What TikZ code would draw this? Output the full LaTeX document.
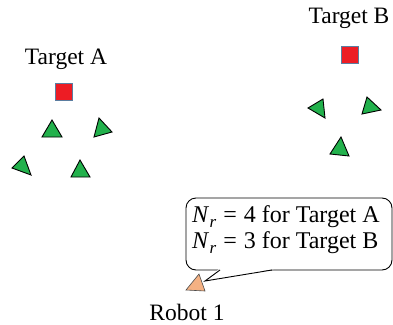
\documentclass[tikz,border=0pt]{standalone}
\usepackage{fontspec}
\setmainfont{Liberation Serif}
\definecolor{tgreen}{RGB}{34,177,76}
\definecolor{tred}{RGB}{237,28,36}
\definecolor{tborder}{RGB}{91,125,160}
\definecolor{torange}{RGB}{244,177,131}
\newcommand{\Nr}{\textit{N}\kern0.3pt\raisebox{-0.22em}{\fontsize{17}{17}\selectfont\textit{r}}}
\begin{document}
\begin{tikzpicture}[x=1pt,y=-1pt,
  lbl/.style={font=\fontsize{23.5}{26}\selectfont, inner sep=0pt, anchor=base},
  ctext/.style={font=\fontsize{24}{27}\selectfont, inner sep=0pt, anchor=base west},
  tri/.style={draw=black, fill=tgreen, line width=0.9pt, line join=miter},
  robot/.style={draw=black!70, fill=torange, line width=0.6pt},
  target/.style={draw=tborder, fill=tred, line width=0.9pt, minimum size=17pt, inner sep=0pt},
  callout/.style={draw=black, line width=0.9pt}]
\useasboundingbox (0,0) rectangle (393,324);
% Target A
\node[lbl] (labelA) at (66,64.5) {Target A};
\node[target] (targetA) at (64,92) {};
\draw[tri] (52,120) -- (42,137) -- (62,137) -- cycle;
\draw[tri] (99,118) -- (94,137) -- (112,132) -- cycle;
\draw[tri] (24,156) -- (12,168) -- (31,175) -- cycle;
\draw[tri] (80,160) -- (71,177) -- (90,177) -- cycle;
% Target B
\node[lbl] (labelB) at (349,23) {Target B};
\node[target] (targetB) at (350,55) {};
\draw[tri] (323,99) -- (308,108) -- (325,118) -- cycle;
\draw[tri] (367,97) -- (362,114) -- (381,110) -- cycle;
\draw[tri] (341,137) -- (330,154) -- (349,156) -- cycle;
% Robot
\draw[robot] (199,274) -- (186,290) -- (205,291) -- cycle;
\coordinate (tip) at (205,281);
\node[lbl] (robotlabel) at (187,320) {Robot 1};
% Callout
\coordinate (pa) at (220,270);
\coordinate (pb) at (272,270);
\draw[callout, rounded corners=10pt] (186,198) rectangle (392,270);
\fill[white] (219,269) -- (274,269) -- (tip) -- cycle;
\draw[callout, line join=miter] (pa) -- (tip) -- (pb);
\node[ctext] (line1) at (192,222) {\Nr\hspace{7pt}=\hspace{7pt}4 for Target A};
\node[ctext] (line2) at (192,248) {\Nr\hspace{7pt}=\hspace{7pt}3 for Target B};
\end{tikzpicture}
\end{document}
